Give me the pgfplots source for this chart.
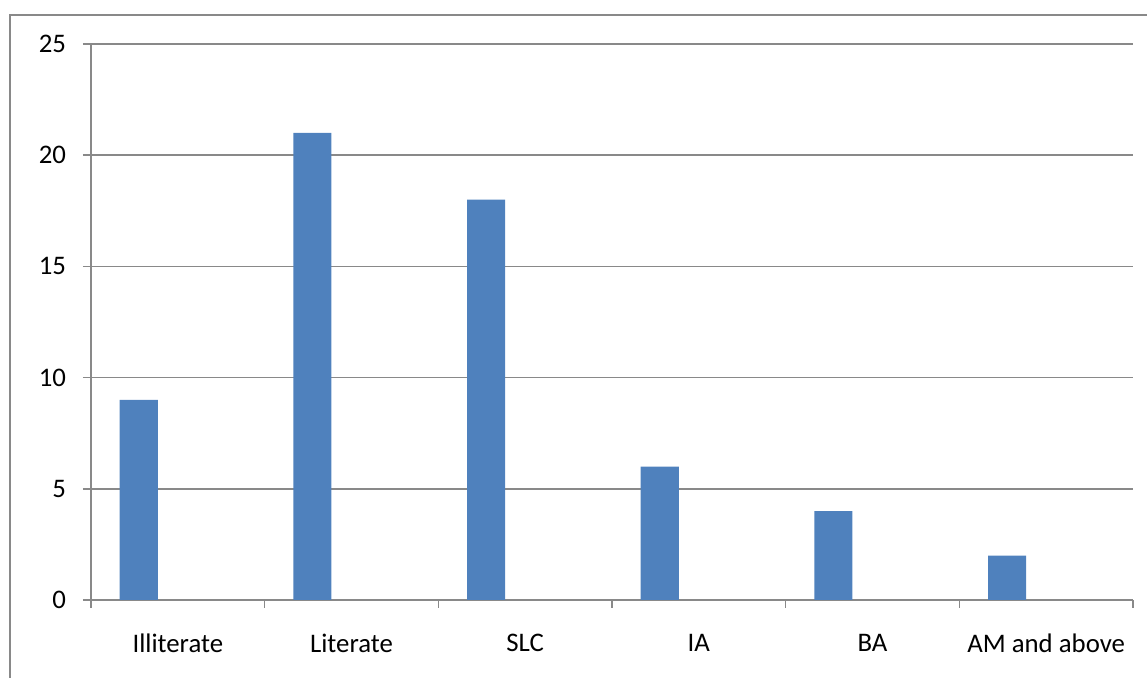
\documentclass[border=0pt]{standalone}
\usepackage{fontspec}
\setmainfont{Carlito}
\usepackage{pgfplots}
\pgfplotsset{compat=1.18}
\definecolor{barblue}{HTML}{4F81BD}
\definecolor{gridgray}{HTML}{898989}
\begin{document}
\begin{tikzpicture}
\useasboundingbox (0,0) rectangle (573.5pt,339pt);
\draw[gridgray, line width=1.2pt] (5pt,0) -- (5pt,331.5pt) -- (573.5pt,331.5pt);
\begin{axis}[
  at={(45.5pt,39pt)}, anchor=south west,
  scale only axis, width=521pt, height=278pt,
  xmin=-0.5, xmax=5.5, ymin=0, ymax=25,
  axis x line=bottom, axis y line=left,
  axis line style={gridgray, line width=0.8pt, -},
  xtick={0,1,2,3,4,5},
  xticklabels={Illiterate,Literate,SLC,IA,BA,AM and above},
  minor xtick={-0.5,0.5,1.5,2.5,3.5,4.5,5.5},
  x tick style={draw=none},
  minor x tick style={draw=gridgray, line width=0.8pt},
  ytick={0,5,10,15,20,25},
  ymajorgrids,
  grid style={gridgray, line width=0.8pt},
  y tick style={gridgray, line width=0.8pt},
  tick align=outside,
  major tick length=4pt, minor tick length=4pt,
  tick label style={font=\fontsize{13.4}{15}\selectfont, text=black},
  /pgf/number format/assume math mode=true,
  yticklabel style={xshift=-5pt},
  xticklabel style={yshift=-9.5pt},
  bar width=0.219, bar shift=-0.225,
  clip=false,
]
\addplot[ybar, fill=barblue, draw=none] coordinates {(0,9) (1,21) (2,18) (3,6) (4,4) (5,2)};
\end{axis}
\end{tikzpicture}
\end{document}
